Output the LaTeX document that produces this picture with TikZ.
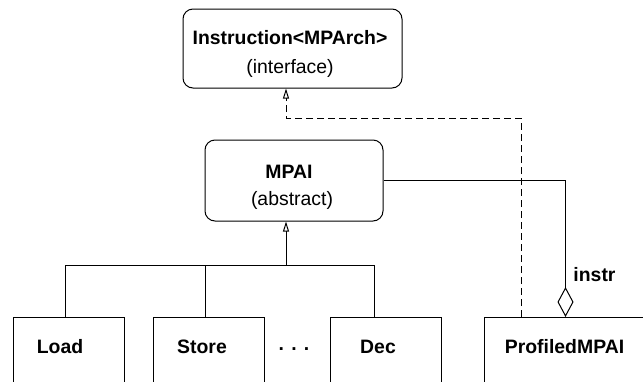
\documentclass[tikz,border=0pt]{standalone}
\usepackage{fontspec}
\setmainfont{Liberation Sans}
\usetikzlibrary{arrows.meta}

\begin{document}
\begin{tikzpicture}[x=1pt, y=-1pt, line width=1pt,
    font=\fontsize{19.4}{29}\selectfont,
    rbox/.style={draw, rounded corners=10pt, inner sep=0pt},
    cbox/.style={draw, inner sep=0pt, minimum width=111pt, minimum height=120pt, anchor=north west},
    title/.style={font=\fontsize{19.4}{29}\selectfont\bfseries},
    gen/.style={-{Triangle[open, length=10pt, width=6pt]}},
    impl/.style={gen, dash pattern=on 7pt off 4pt},
    aggr/.style={{Diamond[open, length=30pt, width=16pt]}-}]
    \clip (0,0) rectangle (643,381);

    % interface on top, abstract class below it
    \node[rbox, minimum width=219pt, minimum height=79pt] (iface) at (292.5,48.5) {};
    \node[title] (ifacename) at (290,38) {Instruction<MPArch>};
    \node (ifacekind) at (290,68) {(interface)};

    \node[rbox, minimum width=178pt, minimum height=81pt] (mpai) at (294,180.5) {};
    \node[title] (mpainame) at (289,172) {MPAI};
    \node (mpaikind) at (292,200) {(abstract)};

    % concrete instructions
    \node[cbox] (load) at (13,317) {};
    \node[cbox] (store) at (153,317) {};
    \node[cbox] (dec) at (330,317) {};
    \node[cbox, minimum width=162pt] (prof) at (484,317) {};
    \node[title] (loadname) at (60,347) {Load};
    \node[title] (storename) at (202,347) {Store};
    \node[title] (dots) at (294,349) {. . .};
    \node[title] (decname) at (378,347) {Dec};
    \node[title] (profname) at (564.5,347) {ProfiledMPAI};

    \coordinate (hub) at (286,265);
    \coordinate (loadtop) at (65,317);
    \coordinate (storetop) at (205,317);
    \coordinate (dectop) at (374,317);
    \coordinate (realize) at (521,317);
    \coordinate (bend) at (286,118);

    % inheritance tree
    \draw (loadtop) |- (dectop |- hub) -- (dectop);
    \draw (storetop) -- (storetop |- hub);
    \draw[gen] (hub) -- (hub |- mpai.south);

    % ProfiledMPAI implements the interface and wraps an MPAI
    \draw[impl] (realize) |- (bend) -- (bend |- iface.south);
    \draw[aggr] (prof.north) -- (prof.north |- mpai.east) -- (mpai.east);
    \node[title] (role) at (594.5,275) {instr};
\end{tikzpicture}
\end{document}
